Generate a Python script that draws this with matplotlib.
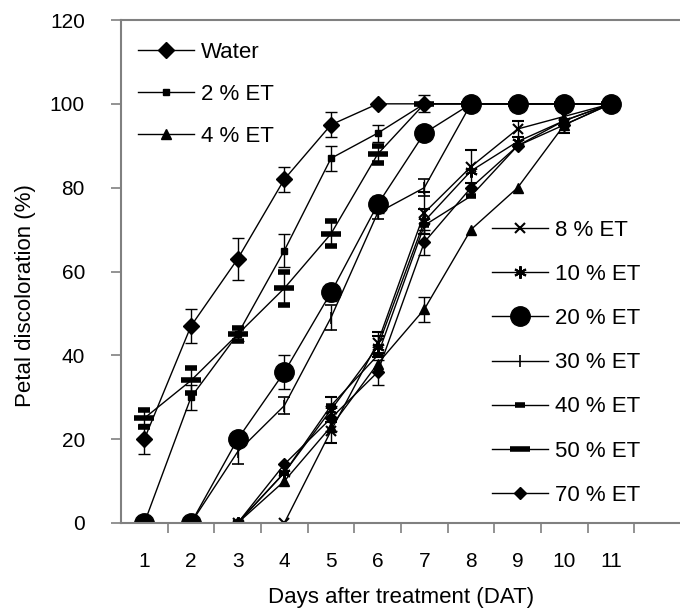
import numpy as np
import matplotlib
matplotlib.use("Agg")
import matplotlib.pyplot as plt

plt.rcParams['font.family'] = ['Liberation Sans', 'DejaVu Sans']

nan = np.nan
days = [1, 2, 3, 4, 5, 6, 7, 8, 9, 10, 11]
day_labels = ['1', '2', '3', '4', '5', '6', '7', '8', '9', '10', '11']

water = [20, 47, 63, 82, 95, 100, 100, 100, 100, 100, 100]
et2 = [0, 30, 45, 65, 87, 93, 100, 100, 100, 100, 100]
et4 = [0, 0, 0, 10, 23, 38, 51, 70, 80, 95, 100]
et8 = [0, 0, 0, 0, 22, 43, 74, 85, 94, 97, 100]
et10 = [0, 0, 0, 12, 27, 42, 72, 84, 91, 96, 100]
et20 = [0, 0, 20, 36, 55, 76, 93, 100, 100, 100, 100]
et30 = [0, 0, 17, 28, 49, 74, 80, 100, 100, 100, 100]
et40 = [0, 0, 0, 12, 28, 40, 71, 78, 90, 96, 100]
et50 = [25, 34, 45, 56, 69, 88, 100, 100, 100, 100, 100]
et70 = [0, 0, 0, 14, 25, 36, 67, 80, 90, 95, 100]

water_err = [3.5, 4, 5, 3, 3, nan, nan, nan, nan, nan, nan]
et2_err = [nan, 3, 1.5, 4, 3, 2, 2, nan, nan, nan, nan]
et4_err = [nan, nan, nan, nan, nan, nan, 3, nan, nan, nan, nan]
et8_err = [nan, nan, nan, nan, 3, 2.5, 5, 4, 2, nan, nan]
et10_err = [nan, nan, nan, nan, 3, 2.5, 3, nan, nan, 3, nan]
et20_err = [nan, nan, nan, 4, 2, 2, nan, nan, nan, nan, nan]
et30_err = [nan, nan, 3, 2, 3, 1.5, 2, nan, nan, nan, nan]
et40_err = [nan] * 11
et50_err = [2, 3, 1.5, 4, 3, 2, nan, nan, nan, nan, nan]
et70_err = [nan, nan, nan, nan, 3, 3, 3, nan, nan, nan, nan]

labels_top = ['Water', '2 % ET', '4 % ET']
labels_right = ['8 % ET', '10 % ET', '20 % ET', '30 % ET', '40 % ET', '50 % ET', '70 % ET']

fig = plt.figure(figsize=(6.8, 6.1), dpi=100)
ax = fig.add_axes([121 / 680, 87 / 610, 560 / 680, 503 / 610])


def draw(y, err, marker, ms, mew=1.0):
    c = ax.errorbar(days, y, yerr=err, color='k', lw=1.0, marker=marker,
                    ms=ms, mew=mew, mfc='k', mec='k', capsize=4.5,
                    elinewidth=1.0, capthick=1.0)
    return c.lines[0]


h_water = draw(water, water_err, 'D', 8)
h2 = draw(et2, et2_err, 's', 5)
h4 = draw(et4, et4_err, '^', 7)
h8 = draw(et8, et8_err, 'x', 7, 1.5)
h10 = draw(et10, et10_err, (6, 2, 0), 9, 1.5)
h20 = draw(et20, et20_err, 'o', 14)
h30 = draw(et30, et30_err, '|', 9, 1.2)
h40 = draw(et40, et40_err, '_', 7, 4)
h50 = draw(et50, et50_err, '_', 14, 4)
h70 = draw(et70, et70_err, 'D', 6)

ax.set_xlim(0.5, 12.5)
ax.set_ylim(0, 120)
ax.set_yticks([0, 20, 40, 60, 80, 100, 120])
ax.set_xticks(days)
ax.set_xticklabels(day_labels)
ax.set_xticks(np.arange(1.5, 12.5, 1), minor=True)
ax.tick_params(axis='x', which='major', length=0, pad=21, labelsize=15)
ax.tick_params(axis='x', which='minor', length=7, width=1.2, color='#808080', direction='out')
ax.tick_params(axis='y', length=7, width=1.2, color='#808080', pad=19, labelsize=15)

for s in ['left', 'bottom', 'top']:
    ax.spines[s].set_color('#808080')
    ax.spines[s].set_linewidth(1.5)
ax.spines['right'].set_visible(False)

ax.set_xlabel('Days after treatment (DAT)', fontsize=16)
ax.xaxis.set_label_coords(0.5, -0.128)
ax.set_ylabel('Petal discoloration (%)', fontsize=16)
ax.yaxis.set_label_coords(-0.152, 0.453)

leg1 = fig.legend([h_water, h2, h4], labels_top, loc='upper left',
                  bbox_to_anchor=(138 / 680, 1 - 42 / 610), frameon=False,
                  fontsize=16, handlelength=2.5, handletextpad=0.35,
                  labelspacing=0.95, borderpad=0, borderaxespad=0)
leg2 = fig.legend([h8, h10, h20, h30, h40, h50, h70], labels_right, loc='upper left',
                  bbox_to_anchor=(492 / 680, 1 - 220 / 610), frameon=False,
                  fontsize=16, handlelength=2.5, handletextpad=0.35,
                  labelspacing=1.04, borderpad=0, borderaxespad=0)

fig.savefig('out.png', dpi=100)
